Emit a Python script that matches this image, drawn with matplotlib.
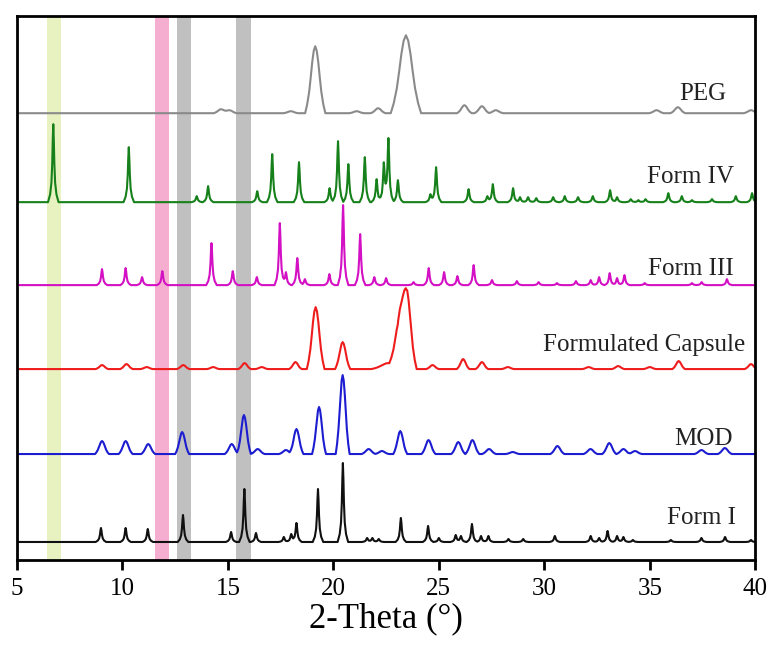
import numpy as np
import matplotlib
matplotlib.use('Agg')
import matplotlib.pyplot as plt

plt.rcParams['font.family'] = ['Liberation Serif', 'DejaVu Serif']

# peak positions (2-theta) and heights (arbitrary units)
peg_pos = [14.67, 15.07, 17.98, 19.14, 21.10, 22.12, 23.44, 26.21, 27.04, 27.70, 35.32, 36.33, 39.80]
peg_h = [4, 3, 2, 67, 2, 5, 78, 8, 7, 3, 3, 6, 3]
peg_w = [0.35, 0.35, 0.35, 0.48, 0.35, 0.35, 0.72, 0.35, 0.35, 0.35, 0.35, 0.35, 0.35]

iv_pos = [6.72, 10.30, 13.52, 14.06, 16.39, 17.10, 18.37, 19.82, 20.22, 20.71, 21.49, 22.05,
          22.39, 22.61, 23.06, 24.60, 24.87, 26.41, 27.30, 27.56, 28.52, 28.85, 29.23, 29.62,
          30.42, 30.97, 31.60, 32.30, 33.12, 33.45, 34.10, 34.46, 34.80, 35.88, 36.52, 37.00,
          37.95, 39.08, 39.85]
iv_h = [78, 55, 6, 16, 11, 48, 40, 14, 61, 38, 45, 23,
        38, 63, 22, 8, 35, 13, 6, 18, 14, 5, 5, 4,
        5, 6, 5, 6, 12, 5, 3, 2, 3, 9, 6, 2,
        3, 6, 9]

iii_pos = [9.03, 10.15, 10.93, 11.89, 14.22, 15.23, 16.37, 17.46, 17.75, 18.29, 18.65, 19.81,
           20.46, 21.27, 21.94, 22.50, 23.80, 24.52, 25.25, 25.88, 26.65, 27.52, 28.70, 29.73,
           30.60, 31.50, 32.20, 32.60, 33.10, 33.45, 33.80, 34.76, 37.00, 37.46, 38.66]
iii_h = [16, 17, 8, 14, 42, 14, 8, 62, 13, 27, 6, 11,
         80, 51, 8, 7, 3, 17, 13, 9, 20, 5, 4, 3,
         2, 4, 5, 8, 12, 7, 10, 2, 2, 3, 6]

cap_pos = [9.03, 10.19, 11.15, 12.88, 14.30, 15.79, 16.60, 18.20, 19.16, 20.44, 22.60, 23.15,
           23.50, 24.70, 26.15, 27.04, 28.27, 32.10, 33.50, 35.00, 36.37, 39.80]
cap_h = [4, 5, 2, 4, 2, 6, 2, 7, 62, 27, 6, 48,
         68, 4, 10, 7, 2, 2, 3, 2, 8, 5]
cap_w = [0.3, 0.3, 0.3, 0.3, 0.3, 0.3, 0.3, 0.3, 0.42, 0.36, 0.8, 0.5,
         0.45, 0.3, 0.3, 0.3, 0.3, 0.3, 0.3, 0.3, 0.3, 0.3]

mod_pos = [9.03, 10.15, 11.22, 12.83, 15.18, 15.76, 16.41, 17.75, 18.25, 19.32, 20.44, 21.67,
           22.30, 23.17, 24.51, 25.92, 26.59, 27.38, 28.50, 30.62, 32.19, 33.08, 33.75, 34.30,
           37.45, 38.56]
mod_h = [13, 13, 10, 22, 10, 39, 5, 4, 25, 47, 79, 5,
         3, 23, 14, 12, 14, 5, 2, 8, 5, 11, 5, 3,
         4, 6]

i_pos = [8.98, 10.15, 11.20, 12.87, 15.15, 15.78, 16.33, 17.65, 18.00, 18.25, 19.27, 20.45,
         21.60, 21.85, 22.15, 23.20, 24.49, 25.00, 25.80, 26.05, 26.57, 27.00, 27.35, 28.30,
         29.00, 30.50, 32.20, 32.60, 33.00, 33.45, 33.75, 34.20, 36.00, 37.45, 38.57, 39.80]
i_h = [14, 14, 13, 27, 10, 53, 9, 5, 8, 19, 53, 79,
       4, 4, 3, 24, 16, 4, 7, 6, 18, 6, 6, 3,
       3, 6, 6, 4, 11, 6, 5, 2, 2, 4, 5, 2]

names = ['PEG', 'Form IV', 'Form III', 'Formulated Capsule', 'MOD', 'Form I']
colors = ['#8a8a8a', '#16801a', '#d410c4', '#ee1c1c', '#1c1cd0', '#101010']
offsets = [447, 358, 275, 191, 106, 18]

bands = [(6.42, 7.09, '#e8f2c0'), (11.55, 12.2, '#f6aed0'),
         (12.6, 13.25, '#c0c0c0'), (15.38, 16.1, '#c0c0c0')]

# peak outlines (half of the profile, mirrored below)
sharp_u = [0, 0.1, 0.2, 0.35, 0.6, 1.0]
sharp_v = [1, 0.8, 0.5, 0.25, 0.1, 0]
round_u = [0, 0.15, 0.3, 0.45, 0.6, 0.8, 1.0]
round_v = [1, 0.93, 0.76, 0.53, 0.32, 0.13, 0]


def outline(hu, hv):
    hu, hv = np.array(hu), np.array(hv)
    return np.r_[-hu[:0:-1], hu], np.r_[hv[:0:-1], hv]


def pattern(pos, hgt, wid, shape):
    u, v = outline(*shape)
    xs = [5.0, 40.0]
    for p, w in zip(pos, wid):
        xs += list(p + w * u)
    xs = np.unique(np.clip(xs, 5, 40))
    ys = np.zeros_like(xs)
    for p, h, w in zip(pos, hgt, wid):
        ys += np.interp(xs, p + w * u, h * v, left=0, right=0)
    return xs, ys


sharp = (sharp_u, sharp_v)
rnd = (round_u, round_v)
traces = [
    pattern(peg_pos, peg_h, peg_w, rnd),
    pattern(iv_pos, iv_h, [0.25] * len(iv_pos), sharp),
    pattern(iii_pos, iii_h, [0.25] * len(iii_pos), sharp),
    pattern(cap_pos, cap_h, cap_w, rnd),
    pattern(mod_pos, mod_h, [0.33] * len(mod_pos), rnd),
    pattern(i_pos, i_h, [0.25] * len(i_pos), sharp),
]

fig = plt.figure(figsize=(7.73, 6.5), dpi=100)
ax = fig.add_axes([0.022, 0.1385, 0.955, 0.8365])

for lo, hi, c in bands:
    ax.axvspan(lo, hi, color=c, lw=0, zorder=0)

for (x, y), off, c in zip(traces, offsets, colors):
    ax.plot(x, y + off, color=c, lw=1.5, zorder=2)

# labels (right edge, baseline)
lab_x = [38.62, 39.0, 38.96, 39.53, 38.91, 39.1]
lab_y = [460, 377, 285, 209, 115, 36]
for name, lx, ly in zip(names, lab_x, lab_y):
    ax.text(lx, ly, name, ha='right', va='baseline', fontsize=18, color='#222222')

ax.set_xlim(5, 40)
ax.set_ylim(0, 544)
ax.set_xticks(np.arange(5, 41, 5))
ax.set_yticks([])
ax.tick_params(axis='x', direction='out', length=7, width=2, labelsize=18, pad=6)
for s in ax.spines.values():
    s.set_linewidth(2)
ax.set_xlabel('2-Theta (°)', fontsize=25, labelpad=2)

fig.savefig('out.png', dpi=100, facecolor='white')
